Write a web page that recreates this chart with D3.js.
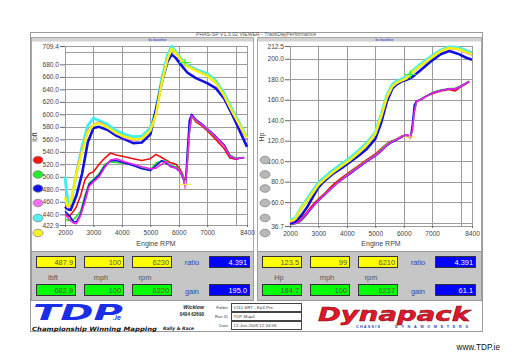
<!DOCTYPE html>
<html>
<head>
<meta charset="utf-8">
<script src="https://cdn.jsdelivr.net/npm/d3@7"></script>
<style>
  body { margin: 0; background: #fff; }
  svg { display: block; font-family: "Liberation Sans", Arial, sans-serif; }
</style>
</head>
<body>
<svg id="chart" width="512" height="362"></svg>
<script>
// rpm grids
var upperRpm = [2000, 2100, 2200, 2400, 2600, 2800, 3000, 3200, 3500, 3800, 4100, 4400, 4700, 5000, 5200, 5400, 5600, 5750, 5900, 6100, 6300, 6600, 7000, 7300, 7600, 7900, 8200, 8400];
var lowerRpm = [2000, 2150, 2300, 2400, 2550, 2700, 2850, 3000, 3200, 3400, 3600, 3800, 4100, 4400, 4700, 5000, 5200, 5400, 5550, 5700, 5900, 6050, 6150, 6230, 6300, 6370, 6450, 6600, 6800, 7000, 7300, 7600, 7800, 8000, 8300];

// torque (lbft)
var tqCyan    = [500, 460, 455, 505, 548, 582, 594, 590, 584, 574, 568, 564, 565, 578, 605, 656, 694, 709, 700, 688, 679, 672, 665, 654, 633, 606, 580, 563];
var tqBlue    = [452, 448, 447, 470, 505, 555, 578, 580, 575, 566, 560, 554, 555, 568, 608, 650, 684, 696, 690, 678, 667, 658, 650, 642, 625, 598, 568, 548];
var tqMagHi   = [455, 450, 455, 510, 545, 575, 584, 588, 580, 569, 562, 558, 560, 575, 602, 652, 690, 703, 697, 686, 678, 671, 662, 650, 628, 601, 576, 560];
var tqYellow  = [468, 452, 458, 505, 540, 572, 583, 586, 579, 570, 564, 560, 561, 574, 600, 650, 688, 705, 698, 686, 677, 670, 662, 651, 630, 603, 578, 562];
var tqRed     = [440, 437, 445, 452, 470, 495, 505, 508, 520, 530, 538, 535, 532, 529, 526, 529, 536, 531, 527, 523, 520, 512, 503, 490, 520, 570, 597, 588, 582, 574, 560, 545, 530, 528, 531];
var tqGreen   = [432, 430, 432, 436, 445, 470, 490, 496, 505, 520, 524, 523, 522, 518, 514, 511, 522, 525, 526, 518, 516, 509, 502, 485, 522, 568, 597, 590, 584, 576, 563, 551, 535, 530, 530];
var tqBlueLo  = [445, 438, 428, 428, 440, 465, 488, 494, 503, 517, 526, 526, 522, 518, 513, 510, 518, 526, 522, 517, 514, 508, 498, 485, 540, 590, 600, 592, 585, 577, 565, 551, 533, 529, 531];
var tqMagLo   = [440, 432, 426, 425, 438, 460, 485, 492, 500, 515, 527, 529, 524, 520, 516, 513, 514, 520, 525, 516, 514, 508, 500, 482, 525, 570, 598, 591, 584, 577, 564, 550, 533, 529, 531];

// power (hp)
var hpCyan    = [43.5, 43, 45, 55, 63, 71, 79, 84, 91, 97, 103, 110, 118, 128, 145, 164, 175, 178, 180, 182.5, 188, 195, 203, 208.5, 211.5, 211, 208, 206];
var hpBlue    = [39, 40, 41.5, 47, 55, 65, 74.5, 80.5, 87.5, 93, 99, 105, 112, 121.8, 137, 157.7, 171, 175, 177.5, 179.5, 182.2, 189, 198.5, 204.5, 207.6, 205, 201, 199.1];
var hpMagHi   = [40, 41.5, 43.5, 53, 60.5, 68.5, 77, 82.5, 89, 95, 101, 108, 115.5, 126, 142, 161, 172.5, 176, 178, 181, 186, 193, 201, 207, 210, 209, 205.5, 203.5];
var hpYellow  = [41.5, 42, 44, 54, 61, 69, 77, 82, 89, 95, 101, 108, 116, 126.7, 143, 162, 173, 176.5, 178.5, 181, 186.5, 193.5, 201.5, 207.5, 210.5, 209.5, 206.5, 204.3];
var hpRed     = [38, 39.5, 42, 44, 48.5, 54, 59, 63, 68, 74, 79, 83.5, 89.5, 95.5, 101.5, 107, 112, 117, 119.5, 121, 124, 125.5, 125, 123, 131, 149, 158.5, 160.5, 163.5, 166, 168.5, 170, 168.5, 172.5, 177.5];
var hpGreen   = [38, 38.5, 40, 42, 46.5, 52, 57, 62, 67, 72.5, 77.5, 82, 88.5, 94.5, 100.5, 106, 111, 116.5, 119, 121, 123.5, 125.5, 125.5, 123, 130.5, 148.5, 158.5, 160.5, 164, 167, 169.5, 171, 171, 173.5, 178];
var hpBlueLo  = [39, 39.5, 40.5, 42.5, 47, 52, 57, 61.5, 66.5, 72, 77, 81.5, 87.5, 93.5, 99.5, 105, 109.5, 115, 118, 120, 123, 125, 125, 122.5, 135, 155, 158.5, 160, 163.5, 166.5, 169, 170.5, 170.5, 173, 178];
var hpMagLo   = [38.5, 39, 40.5, 43, 47.5, 52.5, 57, 61.5, 66.5, 72, 77, 81.5, 88, 94, 100, 105.5, 110, 115.5, 118.6, 120.5, 123.5, 125.5, 125.5, 122.5, 130, 148, 158.5, 160, 163.5, 166.5, 169, 170.8, 170.5, 173, 178];

// axis ticks
var rpmTicks = [2000, 3000, 4000, 5000, 6000, 7000, 8400];
var rpmGrid = [2000, 3000, 4000, 5000, 6000, 7000, 8000, 8400];
var tqTicks = [422.9, 440, 460, 480, 500, 520, 540, 560, 580, 600, 620, 640, 660, 680, 709.4];
var hpTicks = [36.7, 60, 80, 100, 120, 140, 160, 180, 200, 212.5];

// readouts: [value, mph, rpm, ratio/gain]
var tqCursorLo = [487.9, 100, 6230, 4.391];
var tqCursorHi = [682.9, 100, 6220, 195.0];
var hpCursorLo = [123.5, 99, 6210, 4.391];
var hpCursorHi = [184.7, 100, 6237, 61.1];

var legendColors = ["#ff1010", "#20ee20", "#1010f0", "#f070f0", "#50f0f0", "#f8f020"];

var svg = d3.select("#chart");

// outer frame
svg.append("rect").attr("x", 30.5).attr("y", 32.5).attr("width", 452).attr("height", 299)
    .attr("fill", "#fff").attr("stroke", "#9a9a9a");
svg.append("text").attr("x", 256).attr("y", 36.2).attr("text-anchor", "middle")
    .attr("font-size", 5.2).attr("fill", "#555")
    .text("PHAS-SP V1.3.02 VIEWER - TrackDayPerformance");

function drawPanel(cfg) {
    var g = svg.append("g");
    // header bar
    g.append("rect").attr("x", cfg.px).attr("y", 37).attr("width", cfg.pw).attr("height", 4.5)
        .attr("fill", "#d2d2d2");
    g.append("text").attr("x", cfg.px + cfg.pw * 0.5 + 15).attr("y", 40.6).attr("text-anchor", "middle")
        .attr("font-size", 3.6).attr("fill", "#2233cc").text(cfg.header);
    g.append("rect").attr("x", cfg.px + 0.5).attr("y", 37.5).attr("width", cfg.pw - 1).attr("height", 263)
        .attr("fill", "none").attr("stroke", "#a8a8a8");

    var x = d3.scaleLinear().domain([2000, 8400]).range([cfg.x0, cfg.x1]);
    var y = d3.scaleLinear().domain(cfg.yDomain).range([cfg.y1, cfg.y0]);

    // grid
    g.selectAll(".hg").data(cfg.gridY).enter().append("line")
        .attr("x1", cfg.x0).attr("x2", cfg.x1)
        .attr("y1", function (d) { return Math.round(y(d)) + 0.5; })
        .attr("y2", function (d) { return Math.round(y(d)) + 0.5; })
        .attr("stroke", "#9c9c9c");
    g.selectAll(".vg").data(rpmGrid).enter().append("line")
        .attr("y1", cfg.y0).attr("y2", cfg.y1)
        .attr("x1", function (d) { return Math.round(x(d)) + 0.5; })
        .attr("x2", function (d) { return Math.round(x(d)) + 0.5; })
        .attr("stroke", "#9c9c9c");
    g.append("rect").attr("x", cfg.x0 + 0.5).attr("y", cfg.y0 + 0.5)
        .attr("width", cfg.x1 - cfg.x0).attr("height", cfg.y1 - cfg.y0)
        .attr("fill", "none").attr("stroke", "#9c9c9c");

    // axes
    var yAxis = g.append("g").attr("transform", "translate(" + cfg.x0 + ",0)")
        .call(d3.axisLeft(y).tickValues(cfg.yTicks).tickFormat(d3.format(".1f")).tickSize(5).tickPadding(1));
    var xAxis = g.append("g").attr("transform", "translate(0," + cfg.y1 + ")")
        .call(d3.axisBottom(x).tickValues(rpmTicks).tickFormat(d3.format("d")).tickSize(2).tickPadding(3));
    [yAxis, xAxis].forEach(function (a) {
        a.select(".domain").remove();
        a.selectAll("line").attr("stroke", "#666");
        a.selectAll("text").attr("font-size", 6.6).attr("fill", "#444").attr("font-family", null);
    });

    g.append("text").attr("x", (cfg.x0 + cfg.x1) / 2).attr("y", 245.5).attr("text-anchor", "middle")
        .attr("font-size", 7).attr("fill", "#444").text("Engine RPM");
    g.append("text").attr("transform", "translate(" + cfg.titleX + ",137) rotate(-90)")
        .attr("text-anchor", "middle").attr("font-size", 7).attr("fill", "#444").text(cfg.unit);

    // runs
    var line = d3.line().x(function (d) { return x(d[0]); }).y(function (d) { return y(d[1]); });
    cfg.series.forEach(function (s) {
        g.append("path").datum(d3.zip(s.rpm, s.values))
            .attr("d", line).attr("fill", "none")
            .attr("stroke", s.color).attr("stroke-width", s.width)
            .attr("stroke-linejoin", "round");
    });

    // cursors
    [[cfg.cursorLo, "#ffee22"], [cfg.cursorHi, "#33ee33"]].forEach(function (c) {
        var cx = x(c[0][2]), cy = y(c[0][0]);
        g.append("line").attr("x1", cx - 6).attr("x2", cx + 6).attr("y1", cy).attr("y2", cy)
            .attr("stroke", c[1]).attr("stroke-width", 1);
        g.append("line").attr("x1", cx).attr("x2", cx).attr("y1", cy - 4).attr("y2", cy + 4)
            .attr("stroke", c[1]).attr("stroke-width", 1);
    });

    // legend ovals
    [160, 174.5, 188.5, 203, 218, 233].forEach(function (yy, i) {
        g.append("ellipse").attr("cx", cfg.ovalX).attr("cy", yy).attr("rx", 5).attr("ry", 3.8)
            .attr("fill", cfg.grayOvals ? "#b8b8b8" : legendColors[i])
            .attr("stroke", "#888").attr("stroke-width", 0.8);
    });

    // readout panel
    var p = g.append("g");
    p.append("rect").attr("x", cfg.px + 0.5).attr("y", 251.5).attr("width", cfg.pw - 1).attr("height", 49)
        .attr("fill", "#c6c6c6").attr("stroke", "#9a9a9a");
    var bx = cfg.px + 5;
    var rows = [[cfg.cursorLo, 256, "#ffff00"], [cfg.cursorHi, 284, "#00ff00"]];
    rows.forEach(function (r) {
        [0, 1, 2].forEach(function (k) {
            var xx = bx + k * 48;
            p.append("rect").attr("x", xx + 0.5).attr("y", r[1] + 0.5).attr("width", 39).attr("height", 11)
                .attr("fill", r[2]).attr("stroke", "#333");
            p.append("text").attr("x", xx + 37).attr("y", r[1] + 9).attr("text-anchor", "end")
                .attr("font-size", 7.4).attr("fill", "#555").text(r[0][k]);
        });
        p.append("rect").attr("x", bx + 173.5).attr("y", r[1] + 0.5).attr("width", 40).attr("height", 11)
            .attr("fill", "#0000ff").attr("stroke", "#333");
        p.append("text").attr("x", bx + 211).attr("y", r[1] + 9).attr("text-anchor", "end")
            .attr("font-size", 7.4).attr("fill", "#fff").text(d3.format(r[0] === cfg.cursorLo ? ".3f" : ".1f")(r[0][3]));
    });
    p.append("text").attr("x", bx + 156).attr("y", 265).attr("text-anchor", "middle")
        .attr("font-size", 7.4).attr("fill", "#3344bb").text("ratio");
    p.append("text").attr("x", bx + 156).attr("y", 294).attr("text-anchor", "middle")
        .attr("font-size", 7.4).attr("fill", "#3344bb").text("gain");
    [cfg.unit, "mph", "rpm"].forEach(function (u, k) {
        p.append("text").attr("x", bx + 17 + k * 48 - (k === 2 ? 4 : 0)).attr("y", 279.5).attr("text-anchor", "middle")
            .attr("font-size", 7.4).attr("fill", "#555").text(u);
    });
}

drawPanel({
    px: 31, pw: 223, x0: 65, x1: 247, y0: 46, y1: 225, titleX: 37, ovalX: 38,
    header: "bc  baseline", unit: "lbft",
    yDomain: [422.9, 709.4], yTicks: tqTicks, gridY: d3.range(440, 701, 20),
    cursorLo: tqCursorLo, cursorHi: tqCursorHi,
    series: [
        { rpm: lowerRpm, values: tqRed, color: "#ee1010", width: 1.6 },
        { rpm: lowerRpm, values: tqGreen, color: "#22dd22", width: 1.6 },
        { rpm: lowerRpm, values: tqBlueLo, color: "#1010e0", width: 1.6 },
        { rpm: lowerRpm, values: tqMagLo, color: "#ee22ee", width: 1.6 },
        { rpm: upperRpm, values: tqCyan, color: "#44eeee", width: 3 },
        { rpm: upperRpm, values: tqBlue, color: "#1010e0", width: 2.6 },
        { rpm: upperRpm, values: tqMagHi, color: "#ee44ee", width: 1.2 },
        { rpm: upperRpm, values: tqYellow, color: "#f4f010", width: 2.6 }
    ]
});

drawPanel({
    px: 257, pw: 225, x0: 290, x1: 472, y0: 46, y1: 226, titleX: 264, ovalX: 265, grayOvals: true,
    header: "bc  baseline", unit: "Hp",
    yDomain: [36.7, 212.5], yTicks: hpTicks, gridY: d3.range(40, 201, 20),
    cursorLo: hpCursorLo, cursorHi: hpCursorHi,
    series: [
        { rpm: lowerRpm, values: hpRed, color: "#ee1010", width: 1.6 },
        { rpm: lowerRpm, values: hpGreen, color: "#22dd22", width: 1.6 },
        { rpm: lowerRpm, values: hpBlueLo, color: "#1010e0", width: 1.6 },
        { rpm: lowerRpm, values: hpMagLo, color: "#ee22ee", width: 1.6 },
        { rpm: upperRpm, values: hpCyan, color: "#44eeee", width: 3 },
        { rpm: upperRpm, values: hpBlue, color: "#1010e0", width: 2.6 },
        { rpm: upperRpm, values: hpMagHi, color: "#ee44ee", width: 1.2 },
        { rpm: upperRpm, values: hpYellow, color: "#f4f010", width: 2.6 }
    ]
});

// logo strip
var f = svg.append("g");
f.append("text").attr("x", 33).attr("y", 320).attr("font-size", 21).attr("font-weight", 900)
    .attr("font-style", "italic").attr("font-family", "DejaVu Sans").attr("fill", "#1a2ee8")
    .attr("textLength", 90).attr("lengthAdjust", "spacingAndGlyphs").text("TDP");
f.append("text").attr("x", 113).attr("y", 320).attr("font-size", 7).attr("font-weight", "bold")
    .attr("font-style", "italic").attr("fill", "#1a2ee8").text(".ie");
f.append("text").attr("x", 32).attr("y", 330.6).attr("font-size", 5.8).attr("font-weight", "bold")
    .attr("font-style", "italic").attr("font-family", "DejaVu Sans").attr("fill", "#111")
    .attr("textLength", 125).attr("lengthAdjust", "spacingAndGlyphs").text("Championship Winning Mapping");
f.append("text").attr("x", 163).attr("y", 330).attr("font-size", 4.6).attr("font-weight", "bold")
    .attr("font-style", "italic").attr("font-family", "DejaVu Sans").attr("fill", "#222")
    .attr("textLength", 31).attr("lengthAdjust", "spacingAndGlyphs").text("Rally & Race");
f.append("text").attr("x", 204).attr("y", 309).attr("text-anchor", "end").attr("font-size", 5.2)
    .attr("font-weight", "bold").attr("font-style", "italic").attr("fill", "#222").text("Wicklow");
f.append("text").attr("x", 204).attr("y", 315.5).attr("text-anchor", "end").attr("font-size", 4.6)
    .attr("font-weight", "bold").attr("fill", "#222").text("0404 62690");

[["Folder", "V111 SRT - Ep3-Pre", 303], ["Run ID", "TDP-Map4", 312], ["Date", "12-Jun-2009  12:34:58", 321]].forEach(function (r) {
    f.append("text").attr("x", 228).attr("y", r[2] + 6).attr("text-anchor", "end")
        .attr("font-size", 4.2).attr("fill", "#444").text(r[0]);
    f.append("rect").attr("x", 231.5).attr("y", r[2] + 0.5).attr("width", 70).attr("height", 8)
        .attr("fill", "#fff").attr("stroke", "#444");
    f.append("text").attr("x", 233.5).attr("y", r[2] + 6.2).attr("font-size", 4.4).attr("fill", "#444").text(r[1]);
});

f.append("text").attr("x", 318).attr("y", 321).attr("font-size", 19).attr("font-weight", 900)
    .attr("font-style", "italic").attr("font-family", "DejaVu Sans").attr("fill", "#e01828")
    .attr("stroke", "#7a1020").attr("stroke-width", 0.5)
    .attr("textLength", 152).attr("lengthAdjust", "spacingAndGlyphs").text("Dynapack");
f.append("text").attr("x", 356).attr("y", 327.5).attr("font-size", 3.8).attr("font-weight", "bold")
    .attr("fill", "#2a4aa8").attr("textLength", 24).attr("lengthAdjust", "spacing").text("CHASSIS");
f.append("text").attr("x", 395).attr("y", 327.5).attr("font-size", 3.8).attr("font-weight", "bold")
    .attr("fill", "#2a4aa8").attr("textLength", 73).attr("lengthAdjust", "spacing").text("DYNAMOMETERS");

svg.append("text").attr("x", 500).attr("y", 350).attr("text-anchor", "end")
    .attr("font-size", 8.2).attr("fill", "#111").text("www.TDP.ie");
</script>
</body>
</html>
